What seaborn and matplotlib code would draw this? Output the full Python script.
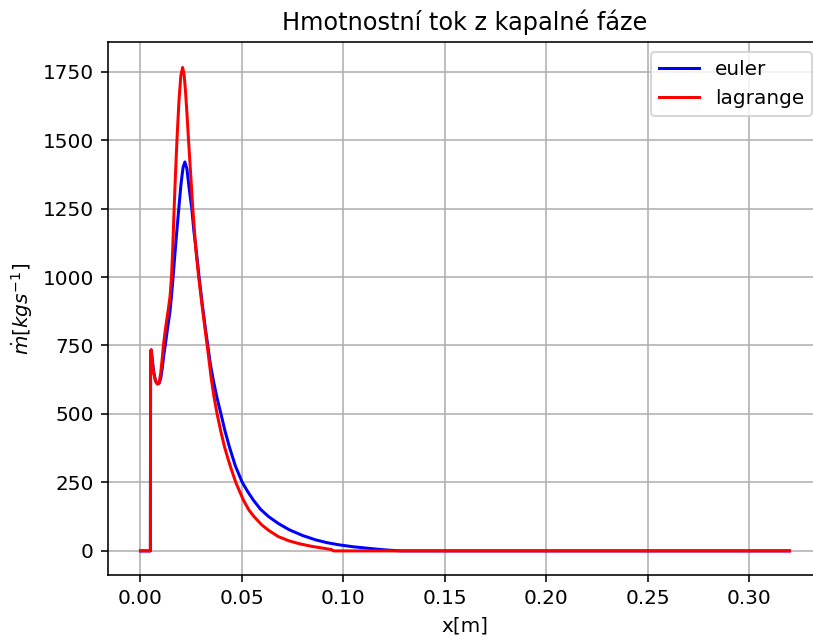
import matplotlib
matplotlib.use("Agg")
import matplotlib.pyplot as plt
import seaborn as sns
import pandas as pd

euler_x = [0.0, 0.0049, 0.0050, 0.0053, 0.0058, 0.0065, 0.0074, 0.0083, 0.0092, 0.0100,
           0.0108, 0.0115, 0.0122, 0.0135, 0.0145, 0.0153, 0.0161, 0.0170, 0.0179, 0.0189,
           0.0200, 0.0210, 0.0219, 0.0229, 0.0239, 0.0253, 0.0263, 0.0276, 0.0289, 0.0305,
           0.0321, 0.0332, 0.0344, 0.0359, 0.0377, 0.0397, 0.0416, 0.0438, 0.0468, 0.0502,
           0.0530, 0.0557, 0.0592, 0.0632, 0.0680, 0.0734, 0.0800, 0.0865, 0.0920, 0.0980,
           0.1050, 0.1130, 0.1200, 0.1280, 0.2000, 0.3200]
euler_y = [0, 0, 730, 734, 700, 655, 622, 610, 612, 630,
           670, 715, 750, 820, 870, 930, 1000, 1085, 1165, 1250,
           1340, 1400, 1420, 1395, 1330, 1250, 1170, 1090, 1000, 900,
           807, 750, 685, 624, 560, 500, 440, 381, 310, 250,
           215, 185, 152, 125, 100, 77, 56, 40, 30, 22,
           15, 9, 4, 0, 0, 0]

lagr_x = [0.0, 0.0049, 0.0050, 0.0053, 0.0058, 0.0065, 0.0074, 0.0083, 0.0092, 0.0100,
          0.0107, 0.0113, 0.0125, 0.0137, 0.0146, 0.0153, 0.0159, 0.0166, 0.0173, 0.0180,
          0.0190, 0.0199, 0.0208, 0.0215, 0.0222, 0.0229, 0.0237, 0.0248, 0.0258, 0.0273,
          0.0287, 0.0303, 0.0319, 0.0329, 0.0339, 0.0350, 0.0363, 0.0378, 0.0395, 0.0414,
          0.0430, 0.0447, 0.0470, 0.0490, 0.0508, 0.0534, 0.0560, 0.0598, 0.0632, 0.0680,
          0.0735, 0.0790, 0.0849, 0.0900, 0.0940, 0.0953, 0.1500, 0.3200]
lagr_y = [0, 0, 730, 734, 695, 650, 620, 609, 615, 650,
          700, 750, 820, 880, 930, 1000, 1100, 1250, 1380, 1500,
          1645, 1735, 1765, 1740, 1680, 1600, 1500, 1370, 1250, 1100,
          1000, 900, 807, 750, 690, 624, 560, 500, 440, 381,
          340, 300, 250, 215, 185, 150, 125, 95, 75, 52,
          36, 25, 16, 10, 5, 0, 0, 0]

labels = ["euler", "lagrange"]
colors = ["blue", "red"]

df = pd.concat([
    pd.DataFrame({"x": euler_x, "y": euler_y, "s": labels[0]}),
    pd.DataFrame({"x": lagr_x, "y": lagr_y, "s": labels[1]}),
])

W, H, DPI = 813, 637, 144
fig = plt.figure(figsize=(W / DPI, H / DPI), dpi=DPI)
ax = fig.add_axes([108 / W, (H - 575) / H, (822 - 108) / W, (575 - 42) / H])

for lab, col in zip(labels, colors):
    sub = df[df["s"] == lab]
    sns.lineplot(data=sub, x="x", y="y", ax=ax, color=col, label=lab,
                 estimator=None, sort=False, linewidth=1.5)

ax.grid(True, color="#b0b0b0", linewidth=0.8)
ax.set_axisbelow(True)
ax.set_title("Hmotnostní tok z kapalné fáze", fontsize=12)
ax.set_xlabel("x[m]", fontsize=10)
ax.set_ylabel(r"$\dot{m} [kg s^{-1}]$", fontsize=10)
ax.set_xlim(-0.016, 0.336)
ax.set_ylim(-88, 1858)
ax.set_xticks([0.0, 0.05, 0.10, 0.15, 0.20, 0.25, 0.30])
ax.set_xticklabels(["0.00", "0.05", "0.10", "0.15", "0.20", "0.25", "0.30"])
ax.set_yticks([0, 250, 500, 750, 1000, 1250, 1500, 1750])
ax.legend(loc="upper right", fontsize=10)

fig.savefig("out.png", dpi=DPI)
